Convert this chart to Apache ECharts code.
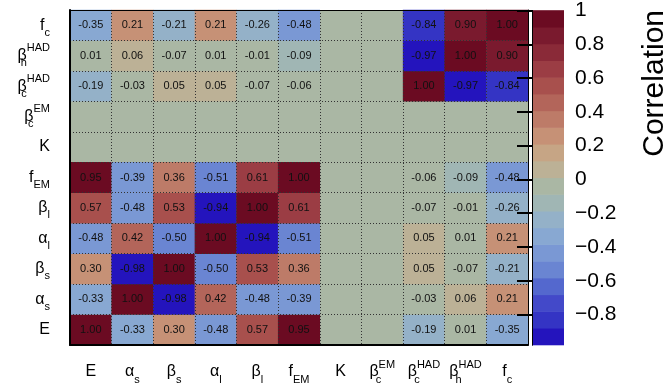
<!DOCTYPE html>
<html><head><meta charset="utf-8">
<script src="https://cdn.jsdelivr.net/npm/echarts@6/dist/echarts.min.js"></script>
<style>html,body{margin:0;padding:0;background:#fff}#c{width:669px;height:392px}</style>
</head><body><div id="c"></div>
<script>
// Parameter labels (rich text: m = main, sb = subscript, so = subscript under superscript, sp = superscript)
const paramLabels = ['{m|E}', '{m|α}{sb|s}', '{m|β}{sb|s}', '{m|α}{sb|l}', '{m|β}{sb|l}', '{m|f}{sb|EM}',
  '{m|K}', '{m|β}{so|c}{sp|EM}', '{m|β}{so|c}{sp|HAD}', '{m|β}{so|h}{sp|HAD}', '{m|f}{sb|c}'];

// Correlation matrix rows (y category, bottom to top); values per x category (left to right). null = not drawn
const rowE      = [1.00, -0.33, 0.30, -0.48, 0.57, 0.95, null, null, -0.19, 0.01, -0.35];
const rowAlphaS = [-0.33, 1.00, -0.98, 0.42, -0.48, -0.39, null, null, -0.03, 0.06, 0.21];
const rowBetaS  = [0.30, -0.98, 1.00, -0.50, 0.53, 0.36, null, null, 0.05, -0.07, -0.21];
const rowAlphaL = [-0.48, 0.42, -0.50, 1.00, -0.94, -0.51, null, null, 0.05, 0.01, 0.21];
const rowBetaL  = [0.57, -0.48, 0.53, -0.94, 1.00, 0.61, null, null, -0.07, -0.01, -0.26];
const rowFEM    = [0.95, -0.39, 0.36, -0.51, 0.61, 1.00, null, null, -0.06, -0.09, -0.48];
const rowK      = [null, null, null, null, null, null, null, null, null, null, null];
const rowBetaCEM  = [null, null, null, null, null, null, null, null, null, null, null];
const rowBetaCHAD = [-0.19, -0.03, 0.05, 0.05, -0.07, -0.06, null, null, 1.00, -0.97, -0.84];
const rowBetaHHAD = [0.01, 0.06, -0.07, 0.01, -0.01, -0.09, null, null, -0.97, 1.00, 0.90];
const rowFc       = [-0.35, 0.21, -0.21, 0.21, -0.26, -0.48, null, null, -0.84, 0.90, 1.00];
const rows = [rowE, rowAlphaS, rowBetaS, rowAlphaL, rowBetaL, rowFEM, rowK, rowBetaCEM, rowBetaCHAD, rowBetaHHAD, rowFc];

// Colour scale
const zMin = -0.98, zMax = 1.0;
const palette = ['#2414bd', '#3434c4', '#4349c9', '#5468ce', '#6a85d2', '#7a98d4', '#88a8d2', '#94b1c8', '#a0b6b4', '#aab7a4',
  '#bcb196', '#c6a585', '#c69176', '#bd7b68', '#b3655a', '#a8504d', '#9b3d44', '#8a2a38', '#7a1a2e', '#6b0b22'];
const colorTicks = [-0.8, -0.6, -0.4, -0.2, 0, 0.2, 0.4, 0.6, 0.8, 1];

const step = (zMax - zMin) / palette.length;
const bands = palette.map((c, i) => [0, 1, zMin + i * step, zMin + (i + 1) * step, i]);
const pieces = palette.map((c, i) => i === palette.length - 1
  ? { gte: zMin + i * step, lte: zMax + 0.01, color: c }
  : { gte: zMin + i * step, lt: zMin + (i + 1) * step, color: c });

const cells = [];
rows.forEach((r, j) => r.forEach((v, i) => { if (v !== null) cells.push([i, j, v]); }));

const FONT = 'Liberation Sans, Arial, Helvetica, sans-serif';
const rich = {
  m: { fontSize: 16, fontFamily: FONT, color: '#000', lineHeight: 26 },
  sb: { fontSize: 11, fontFamily: FONT, color: '#000', lineHeight: 14, verticalAlign: 'bottom' },
  so: { fontSize: 11, fontFamily: FONT, color: '#000', lineHeight: 14, verticalAlign: 'bottom', width: 0 },
  sp: { fontSize: 11, fontFamily: FONT, color: '#000', lineHeight: 14, verticalAlign: 'top' }
};

const chart = echarts.init(document.getElementById('c'), null, { renderer: 'canvas' });
chart.setOption({
  animation: false,
  backgroundColor: '#fff',
  grid: [
    { left: 70, top: 10, width: 458, height: 335, show: true, backgroundColor: palette[9], borderWidth: 0 },
    { left: 532, top: 10, width: 32, height: 335, show: false }
  ],
  xAxis: [
    { type: 'category', gridIndex: 0, data: paramLabels, position: 'bottom', z: 5,
      axisLine: { lineStyle: { color: '#000', width: 2 } },
      axisTick: { inside: true, length: 8, lineStyle: { color: '#000', width: 1.5 } },
      splitLine: { show: true, lineStyle: { color: '#333', width: 1, type: [1, 2] } },
      axisLabel: { interval: 0, margin: 14, rich: rich, formatter: v => v } },
    { type: 'category', gridIndex: 0, data: paramLabels, position: 'top', z: 5,
      axisLine: { lineStyle: { color: '#000', width: 1 } },
      axisTick: { inside: true, length: 6, lineStyle: { color: '#000', width: 2 } },
      axisLabel: { show: false }, splitLine: { show: false } },
    { type: 'value', gridIndex: 1, min: 0, max: 1, show: false }
  ],
  yAxis: [
    { type: 'category', gridIndex: 0, data: paramLabels, position: 'left', z: 5,
      axisLine: { lineStyle: { color: '#000', width: 2 } },
      axisTick: { inside: true, length: 7, lineStyle: { color: '#000', width: 2 } },
      splitLine: { show: true, lineStyle: { color: '#333', width: 1, type: [1, 2] } },
      axisLabel: { interval: 0, margin: 20, rich: rich, formatter: v => v } },
    { type: 'category', gridIndex: 0, data: paramLabels, position: 'right', z: 5,
      axisLine: { lineStyle: { color: '#000', width: 1 } },
      axisTick: { inside: true, length: 16, lineStyle: { color: '#000', width: 2 } },
      axisLabel: { show: false }, splitLine: { show: false } },
    { type: 'value', gridIndex: 1, min: zMin, max: zMax, position: 'right', z: 5,
      axisLine: { show: true, lineStyle: { color: '#000', width: 1 } },
      axisTick: { show: true, inside: true, length: 15, customValues: colorTicks, lineStyle: { color: '#000', width: 2 } },
      axisLabel: { show: true, customValues: colorTicks, margin: 11, fontSize: 21, fontFamily: FONT, color: '#000',
        formatter: v => (v < 0 ? '\u2212' + String(Math.abs(v)) : String(v)) },
      splitLine: { show: false } },
    { type: 'value', gridIndex: 1, min: zMin, max: zMax, position: 'left', z: 5,
      axisLine: { show: true, onZero: false, lineStyle: { color: '#000', width: 1 } },
      axisTick: { show: false }, axisLabel: { show: false }, splitLine: { show: false } }
  ],
  visualMap: { type: 'piecewise', show: false, dimension: 2, seriesIndex: 0, pieces: pieces },
  series: [
    { type: 'heatmap', xAxisIndex: 0, yAxisIndex: 0, data: cells,
      label: { show: true, formatter: p => p.value[2].toFixed(2), fontSize: 11, fontFamily: FONT, color: '#111' },
      itemStyle: { borderWidth: 0 }, emphasis: { disabled: true } },
    { type: 'custom', xAxisIndex: 2, yAxisIndex: 2, data: bands, encode: { x: [0, 1], y: [2, 3] },
      renderItem: (params, api) => {
        const p0 = api.coord([api.value(0), api.value(2)]);
        const p1 = api.coord([api.value(1), api.value(3)]);
        return { type: 'rect', shape: { x: p0[0], y: p1[1] - 0.3, width: p1[0] - p0[0], height: p0[1] - p1[1] + 0.6 },
          style: { fill: palette[api.value(4)] } };
      } }
  ],
  graphic: [
    { type: 'text', x: 655, y: 10, rotation: Math.PI / 2,
      style: { text: 'Correlation', fontSize: 30, fontFamily: FONT, fill: '#000', align: 'right', verticalAlign: 'middle' } }
  ]
});
</script></body></html>
